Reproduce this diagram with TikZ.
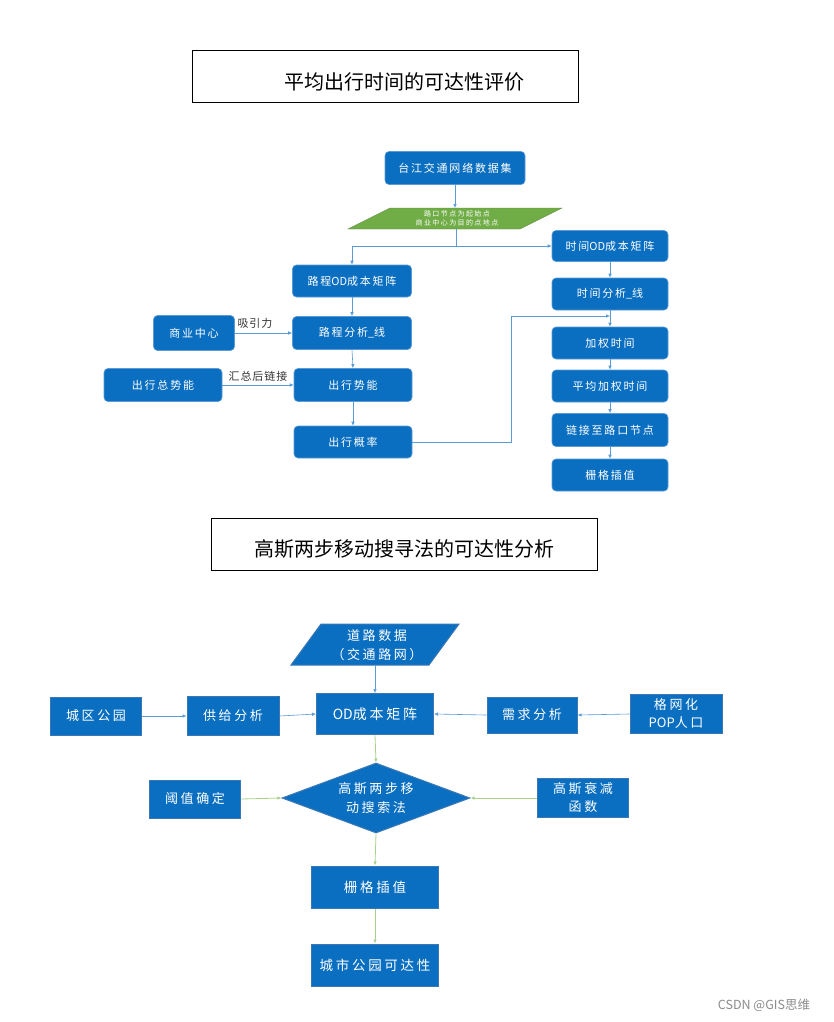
\documentclass[tikz,border=0pt]{standalone}
\usepackage{fontspec}
\setmainfont{Noto Sans CJK SC}
\newfontfamily\cjkA{Noto Sans CJK SC}[LetterSpace=16]
\newfontfamily\cjkB{Noto Sans CJK SC}[LetterSpace=20]
\newfontfamily\cjkC{Noto Sans CJK SC}[LetterSpace=8]
\newfontfamily\latn{Noto Sans CJK SC}
\newcommand{\lt}[1]{{\latn #1}}
\usetikzlibrary{arrows.meta,shapes.geometric}
\definecolor{boxblue}{HTML}{0A6FC0}
\definecolor{boxedge}{HTML}{5B9BD5}
\definecolor{bedge}{HTML}{3A78B5}
\definecolor{lineblue}{HTML}{5B9BD5}
\definecolor{linegreen}{HTML}{A9D18E}
\definecolor{paragreen}{HTML}{70AD47}
\definecolor{wmgray}{HTML}{8C8C8C}
\tikzset{
  rbox/.style={rounded corners=4pt, fill=boxblue, draw=boxedge, line width=0.6pt, text=white, inner sep=0pt, font=\cjkA\fontsize{11}{14}\selectfont},
  sbox/.style={fill=boxblue, draw=bedge, line width=1pt, text=white, inner sep=0pt, align=center, font=\cjkB\fontsize{13}{18}\selectfont},
  titlebox/.style={draw=black, line width=0.8pt, minimum width=386pt, minimum height=52pt, inner sep=0pt},
  titletext/.style={font=\fontsize{20}{24}\selectfont, text=black},
  lbl/.style={font=\cjkC\fontsize{11}{14}\selectfont, text=black!80, inner sep=0pt},
  arr/.style={-{Latex[length=4pt,width=3.5pt]}, draw=lineblue, line width=0.6pt},
  garr/.style={-{Latex[length=4pt,width=3.5pt]}, draw=linegreen, line width=0.8pt},
  ln/.style={draw=lineblue, line width=0.6pt},
}
\begin{document}
\begin{tikzpicture}[x=1pt,y=-1pt]
\useasboundingbox (0,0) rectangle (833,1022);
\fill[white] (0,0) rectangle (833,1022);

% ---------- titles ----------
\node[titlebox] (t1) at (385,76) {};
\node[titletext] (t1text) at (404,82) {平均出行时间的可达性评价};
\node[titlebox] (t2) at (404,544) {};
\node[titletext] (t2text) at (404,549) {高斯两步移动搜寻法的可达性分析};

% ---------- top flowchart ----------
\node[rbox, minimum width=140pt, minimum height=33pt] (tj) at (455,168) {台江交通网络数据集};
\filldraw[fill=paragreen, draw=paragreen!80!black, line width=0.4pt] (390,208) -- (562,208) -- (520,229) -- (348,229) -- cycle;
\node[align=center, text=white, inner sep=0pt, font=\cjkB\fontsize{7}{9.5}\selectfont] (para) at (457,218.5) {路口节点为起始点\\商业中心为目的点地点};
\coordinate (paraTop) at (455,208);
\coordinate (paraBot) at (456,229);
\coordinate (split) at (456,246);
\coordinate (splitL) at (352,246);

\node[rbox, minimum width=119pt, minimum height=32pt] (rdOD) at (352,281) {路程\lt{OD}成本矩阵};
\node[rbox, minimum width=119pt, minimum height=33pt] (rdAn) at (352,333) {路程分析\lt{\_}线};
\node[rbox, minimum width=81pt, minimum height=35pt] (sy) at (194,333) {商业中心};
\node[rbox, minimum width=118pt, minimum height=33pt] (cxz) at (163,385) {出行总势能};
\node[rbox, minimum width=118pt, minimum height=33pt] (cxs) at (353,385) {出行势能};
\node[rbox, minimum width=118pt, minimum height=32pt] (cxg) at (353,442) {出行概率};

\node[rbox, minimum width=116pt, minimum height=31pt] (tOD) at (610,246) {时间\lt{OD}成本矩阵};
\node[rbox, minimum width=116pt, minimum height=32pt] (tAn) at (610,294) {时间分析\lt{\_}线};
\node[rbox, minimum width=116pt, minimum height=32pt] (jq) at (610,343) {加权时间};
\node[rbox, minimum width=116pt, minimum height=32pt] (pj) at (610,386) {平均加权时间};
\node[rbox, minimum width=116pt, minimum height=33pt] (lj) at (610,430) {链接至路口节点};
\node[rbox, minimum width=116pt, minimum height=32pt] (sg1) at (610,475) {栅格插值};

\node[lbl] (xyl) at (255,323) {吸引力};
\node[lbl] (hzl) at (258,376) {汇总后链接};

\draw[arr] (tj.south) -- (paraTop);
\draw[ln] (paraBot) -- (split);
\draw[ln] (splitL) -- (split);
\draw[arr] (split) -- (tOD.west);
\draw[arr] (splitL) -- (rdOD.north);
\draw[arr] (rdOD.south) -- (rdAn.north);
\draw[arr] (rdAn.south) -- (cxs.north);
\draw[arr] (cxs.south) -- (cxg.north);
\draw[arr] (sy.east) -- (rdAn.west);
\draw[arr] (cxz.east) -- (cxs.west);
\coordinate (mergeT) at (610,316);
\draw[arr] (cxg.east) -- (511,442) -- (511,316) -- (mergeT);
\draw[arr] (tOD.south) -- (tAn.north);
\draw[arr] (tAn.south) -- (jq.north);
\draw[arr] (jq.south) -- (pj.north);
\draw[arr] (pj.south) -- (lj.north);
\draw[arr] (lj.south) -- (sg1.north);

% ---------- bottom flowchart ----------
\filldraw[fill=boxblue, draw=bedge, line width=1pt] (321,624) -- (459,624) -- (429,665) -- (291,665) -- cycle;
\node[align=center, text=white, inner sep=0pt, font=\cjkB\fontsize{13}{19}\selectfont] (road) at (377,645) {道路数据\\（交通路网）};
\coordinate (roadBot) at (375,665);

\node[sbox, minimum width=117pt, minimum height=41pt, font=\cjkB\fontsize{14}{17}\selectfont] (od) at (375,714) {\lt{OD}成本矩阵};
\node[sbox, minimum width=91pt, minimum height=38pt] (cq) at (96,716) {城区公园};
\node[sbox, minimum width=92pt, minimum height=39pt] (gj) at (233,716) {供给分析};
\node[sbox, minimum width=90pt, minimum height=36pt] (xq) at (532,715) {需求分析};
\node[sbox, minimum width=92pt, minimum height=39pt] (gw) at (676,714) {格网化\\\lt{POP}人口};
\node[diamond, fill=boxblue, draw=bedge, line width=1pt, text=white, align=center, inner sep=0pt, aspect=2.7, minimum width=188pt, minimum height=70pt, font=\cjkB\fontsize{13}{19}\selectfont] (dm) at (376,798) {高斯两步移\\动搜索法};
\node[sbox, minimum width=91pt, minimum height=38pt] (yz) at (195,799) {阈值确定};
\node[sbox, minimum width=91pt, minimum height=39pt] (gs) at (583,798) {高斯衰减\\函数};
\node[sbox, minimum width=127pt, minimum height=42pt, font=\cjkB\fontsize{13.5}{17}\selectfont] (sg2) at (375,887) {栅格插值};
\node[sbox, minimum width=127pt, minimum height=42pt, font=\cjkB\fontsize{13.5}{17}\selectfont] (cs) at (375,965) {城市公园可达性};

\draw[arr] (roadBot) -- (od.north);
\draw[arr] (cq.east) -- (gj.west);
\draw[arr] (gj.east) -- (od.west);
\draw[arr] (gw.west) -- (xq.east);
\draw[arr] (xq.west) -- (od.east);
\draw[garr] (od.south) -- (dm.north);
\draw[garr] (yz.east) -- (dm.west);
\draw[garr] (gs.west) -- (dm.east);
\draw[garr] (dm.south) -- (sg2.north);
\draw[garr] (sg2.south) -- (cs.north);

\node[text=wmgray, inner sep=0pt, font=\fontsize{12.5}{14}\selectfont] (wm) at (764,1005) {CSDN @GIS思维};
\end{tikzpicture}
\end{document}
